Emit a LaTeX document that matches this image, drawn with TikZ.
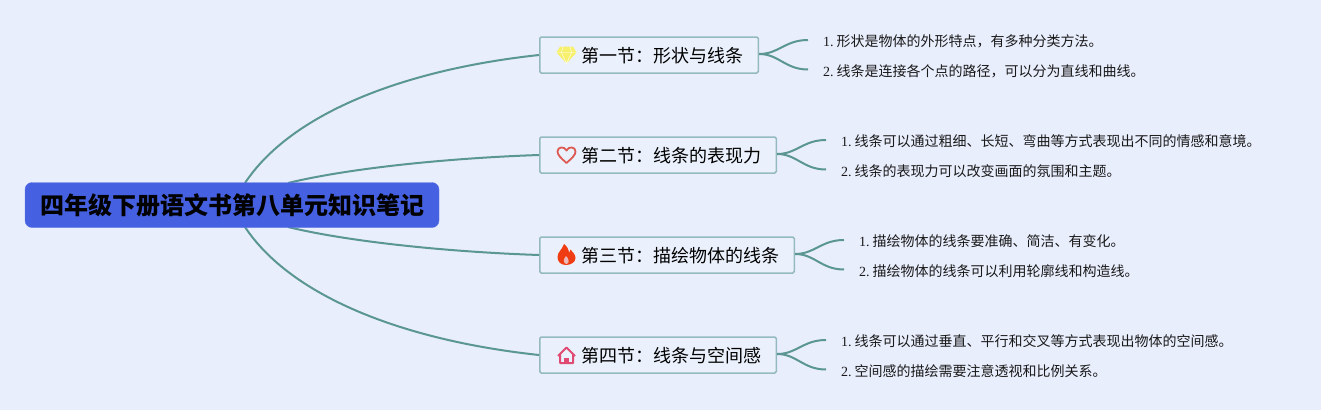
\documentclass[tikz,border=0pt]{standalone}
\usepackage{fontspec}
\newfontfamily\cjk{Noto Sans CJK SC}
\newfontfamily\numf{Liberation Serif}
\tikzset{
 x=1pt,y=-1pt,
 link/.style={draw=linkc,line width=2pt},
 rootbox/.style={fill=rootc,draw=rootc!85!white,rounded corners=7pt,inner sep=0pt,minimum width=414pt,minimum height=45pt,font=\cjk\fontsize{24}{24}\selectfont\bfseries,text=black},
 secbox/.style={fill=boxc,draw=boxd,line width=1.5pt,rounded corners=1.5pt,inner sep=0pt,minimum height=36pt,anchor=west},
 sectext/.style={anchor=west,inner sep=0pt,font=\cjk\fontsize{18}{18}\selectfont,text=black},
 leaf/.style={anchor=west,inner sep=0pt,font=\fontsize{14}{14}\selectfont,text=black!90},
}
\definecolor{bgc}{HTML}{E9EEFD}
\definecolor{linkc}{HTML}{5A9692}
\definecolor{rootc}{HTML}{4560E0}
\definecolor{boxc}{HTML}{EBF1FC}
\definecolor{boxd}{HTML}{94BAC0}
\definecolor{gem}{HTML}{F6F06C}
\definecolor{heartc}{HTML}{DD5A52}
\definecolor{flame}{HTML}{F03C12}
\definecolor{housec}{HTML}{E04A72}
\newcommand{\lf}[2]{{\numf\fontsize{14}{14}\selectfont #1.}\hspace{3pt}{\cjk #2}}
\begin{document}
\begin{tikzpicture}
\fill[bgc] (0,0) rectangle (1321,410);
\useasboundingbox (0,0) rectangle (1321,410);
\coordinate (rc) at (232,205);
\coordinate (r1) at (245,183);
\coordinate (r2) at (288,183);
\coordinate (r3) at (288,227);
\coordinate (r4) at (245,227);
% sections
\node[secbox,minimum width=218.5pt] (s1) at (539,55) {};
\node[secbox,minimum width=236.5pt] (s2) at (539,155) {};
\node[secbox,minimum width=254.5pt] (s3) at (539,255) {};
\node[secbox,minimum width=236.5pt] (s4) at (539,355) {};
% root links
\draw[link] (r1) .. controls (290,115) and (400,70) .. (s1.west);
\draw[link] (r2) .. controls (350,168) and (450,158) .. (s2.west);
\draw[link] (r3) .. controls (350,242) and (450,252) .. (s3.west);
\draw[link] (r4) .. controls (290,295) and (400,340) .. (s4.west);
\node[rootbox] (root) at (rc) {\raisebox{-1pt}{四年级下册语文书第八单元知识笔记}};
\node[sectext] (t1) at (581.5,56) {第一节：形状与线条};
\node[sectext] (t2) at (581.5,156) {第二节：线条的表现力};
\node[sectext] (t3) at (581.5,256) {第三节：描绘物体的线条};
\node[sectext] (t4) at (581.5,356) {第四节：线条与空间感};
% icons
\fill[gem] (560,46.5) -- (573,46.5) -- (576.5,52.5) -- (566.5,63.5) -- (556.5,52.5) -- cycle;
\draw[white,line width=.4pt] (556.5,52.5) -- (576.5,52.5) (563,46.5) -- (561.5,52.5) -- (566.5,63.5) -- (571.5,52.5) -- (570,46.5);
\draw[draw=heartc,line width=1.8pt,line join=round] (566.5,163) .. controls (561,158) and (557.5,155) .. (557.5,151.5) .. controls (557.5,146.5) and (564.5,146) .. (566.5,150.5) .. controls (568.5,146) and (575.5,146.5) .. (575.5,151.5) .. controls (575.5,155) and (572,158) .. (566.5,163) -- cycle;
\fill[flame] (566,265) .. controls (560,265) and (557.5,261) .. (557.5,257) .. controls (557.5,252) and (562,250) .. (564,244) .. controls (567,246) and (569,250) .. (569,253) .. controls (570,252) and (570.5,251) .. (570.5,249.5) .. controls (573,252) and (575.5,255) .. (575.5,258) .. controls (575.5,262) and (571,265) .. (566,265) -- cycle;
\fill[bgc!70!flame] (566.5,264) .. controls (563.5,263.5) and (562.5,260) .. (566,256) .. controls (569.5,259) and (569.5,263.5) .. (566.5,264) -- cycle;
\draw[draw=housec,line width=2pt,line join=round] (558,356) -- (566.5,347.5) -- (575,356) (560,354.5) -- (560,363) -- (573,363) -- (573,354.5);
\fill[housec] (564,363) rectangle (569,358);
% leaves
\node[leaf] (l11) at (823,41) {\lf{1}{形状是物体的外形特点，有多种分类方法。}};
\node[leaf] (l12) at (823,71) {\lf{2}{线条是连接各个点的路径，可以分为直线和曲线。}};
\node[leaf] (l21) at (841,141) {\lf{1}{线条可以通过粗细、长短、弯曲等方式表现出不同的情感和意境。}};
\node[leaf] (l22) at (841,171) {\lf{2}{线条的表现力可以改变画面的氛围和主题。}};
\node[leaf] (l31) at (859,241) {\lf{1}{描绘物体的线条要准确、简洁、有变化。}};
\node[leaf] (l32) at (859,271) {\lf{2}{描绘物体的线条可以利用轮廓线和构造线。}};
\node[leaf] (l41) at (841,341) {\lf{1}{线条可以通过垂直、平行和交叉等方式表现出物体的空间感。}};
\node[leaf] (l42) at (841,371) {\lf{2}{空间感的描绘需要注意透视和比例关系。}};
% leaf links
\foreach \s/\a/\b in {s1/l11/l12,s2/l21/l22,s3/l31/l32,s4/l41/l42}{
 \draw[link] ([yshift=1pt]\s.east) .. controls +(20,0) and ([xshift=-38pt,yshift=1pt]\a.west) .. ([xshift=-15pt,yshift=1pt]\a.west);
 \draw[link] ([yshift=1pt]\s.east) .. controls +(20,0) and ([xshift=-38pt,yshift=1.5pt]\b.west) .. ([xshift=-15pt,yshift=1.5pt]\b.west);
}
\end{tikzpicture}
\end{document}
